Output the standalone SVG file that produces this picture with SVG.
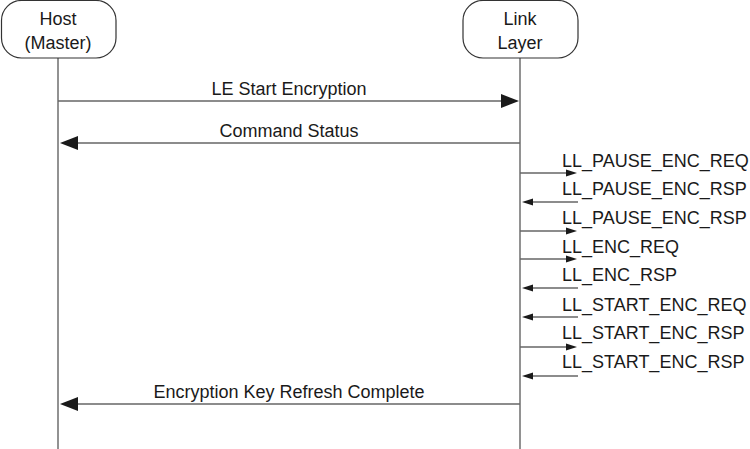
<svg xmlns="http://www.w3.org/2000/svg" width="750" height="449" viewBox="0 0 750 449">
<style>
text{font-family:"Liberation Sans",Arial,sans-serif;font-size:18px;fill:#1a1a1a}
.box{fill:#fff;stroke:#333;stroke-width:1.2}
.life{stroke:#777;stroke-width:1.6;fill:none}
.msg{stroke:#666;stroke-width:1.4;fill:none}
.head{fill:#1a1a1a}
</style>
<g id="lifelines">
<line class="life" x1="58" y1="58" x2="58" y2="449"/>
<line class="life" x1="520" y1="58" x2="520" y2="449"/>
</g>
<g id="host">
<rect class="box" x="1.5" y="0.5" width="114.5" height="57.5" rx="20" ry="20"/>
<text x="58" y="25" text-anchor="middle">Host</text>
<text x="58" y="49" text-anchor="middle">(Master)</text>
</g>
<g id="linklayer">
<rect class="box" x="463" y="0.5" width="115" height="57.5" rx="20" ry="20"/>
<text x="520" y="25" text-anchor="middle">Link</text>
<text x="520" y="49" text-anchor="middle">Layer</text>
</g>
<g id="connectors">
<line class="msg" x1="58" y1="101" x2="502" y2="101"/>
<polygon class="head" points="519,101 501,94 501,108"/>
<line class="msg" x1="520" y1="143" x2="77" y2="143"/>
<polygon class="head" points="60,143 78,136 78,150"/>
<line class="msg" x1="520" y1="173" x2="568" y2="173"/>
<polygon class="head" points="577,173 566,169.5 566,176.5"/>
<line class="msg" x1="578" y1="202" x2="531" y2="202"/>
<polygon class="head" points="522,202 533,198.5 533,205.5"/>
<line class="msg" x1="520" y1="231" x2="568" y2="231"/>
<polygon class="head" points="577,231 566,227.5 566,234.5"/>
<line class="msg" x1="520" y1="259" x2="568" y2="259"/>
<polygon class="head" points="577,259 566,255.5 566,262.5"/>
<line class="msg" x1="578" y1="288" x2="531" y2="288"/>
<polygon class="head" points="522,288 533,284.5 533,291.5"/>
<line class="msg" x1="578" y1="317" x2="531" y2="317"/>
<polygon class="head" points="522,317 533,313.5 533,320.5"/>
<line class="msg" x1="520" y1="347" x2="568" y2="347"/>
<polygon class="head" points="577,347 566,343.5 566,350.5"/>
<line class="msg" x1="578" y1="376" x2="531" y2="376"/>
<polygon class="head" points="522,376 533,372.5 533,379.5"/>
<line class="msg" x1="520" y1="404" x2="77" y2="404"/>
<polygon class="head" points="60,404 78,397 78,411"/>
</g>
<g id="labels">
<text x="289" y="95" text-anchor="middle">LE Start Encryption</text>
<text x="289" y="137" text-anchor="middle">Command Status</text>
<text x="562" y="167">LL_PAUSE_ENC_REQ</text>
<text x="562" y="195">LL_PAUSE_ENC_RSP</text>
<text x="562" y="224">LL_PAUSE_ENC_RSP</text>
<text x="562" y="253">LL_ENC_REQ</text>
<text x="562" y="281">LL_ENC_RSP</text>
<text x="562" y="311">LL_START_ENC_REQ</text>
<text x="562" y="339">LL_START_ENC_RSP</text>
<text x="562" y="368">LL_START_ENC_RSP</text>
<text x="289" y="398" text-anchor="middle">Encryption Key Refresh Complete</text>
</g>
</svg>
